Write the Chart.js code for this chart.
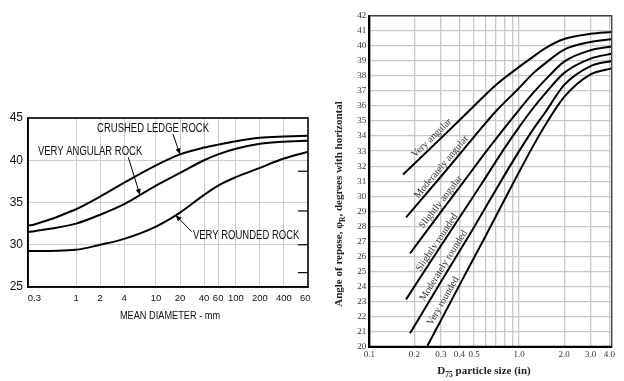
<!DOCTYPE html>
<html><head><meta charset="utf-8">
<script src="https://cdn.jsdelivr.net/npm/chart.js@4.4.1/dist/chart.umd.min.js"></script>
<style>
html,body{margin:0;padding:0;background:#fff;width:624px;height:381px;overflow:hidden}
#lw{position:absolute;left:0;top:105px;width:311px;height:225px;overflow:hidden}
#rw{position:absolute;left:330px;top:0;width:294px;height:381px}
</style></head><body>
<div id="lw"><canvas id="lc" width="320" height="225"></canvas></div>
<div id="rw"><canvas id="rc" width="294" height="381"></canvas></div>
<script>
// ---------- LEFT CHART DATA (mean diameter, mm) ----------
const leftSizes = [0.25, 0.3, 1, 2, 4, 10, 20, 40, 60, 100, 200, 400, 800];
const crushedLedgeRock = [32.25, 32.4, 34.2, 35.7, 37.35, 39.4, 40.7, 41.5, 41.85, 42.25, 42.65, 42.8, 42.9];
const veryAngularRock  = [31.5, 31.6, 32.5, 33.55, 34.8, 37.0, 38.5, 40.0, 40.7, 41.35, 41.95, 42.2, 42.3];
const veryRoundedRock  = [29.25, 29.25, 29.4, 30.0, 30.7, 32.15, 33.8, 35.9, 37.0, 38.0, 39.1, 40.2, 41.0];
// the reference prints its last label ("600") at the right end of the axis
const leftTicks = [0.3, 1, 2, 4, 10, 20, 40, 60, 100, 200, 400, 800];
const leftTickLabels = ['0.3','1','2','4','10','20','40','60','100','200','400','600'];
const leftEdgeMarks = [38.7, 34.0, 30.0, 26.7];
const leftLabelText = ['CRUSHED LEDGE ROCK', 'VERY ANGULAR ROCK', 'VERY ROUNDED ROCK'];
const leftLabelX = [1.83, 0.333, 29];
const leftLabelY = [43.73, 41.06, 31.1];
const leftArrowFromX = [16.3, 4.5, 28];
const leftArrowFromY = [43.1, 40.35, 31.55];
const leftArrowToX = [20, 6.3, 17.6];
const leftArrowToY = [40.7, 35.9, 33.5];

// ---------- RIGHT CHART DATA (D75 particle size, in) ----------
const veryAngularSize = [0.168, 0.3, 0.5, 0.7, 1.0, 1.25, 1.5, 2.0, 3.0, 4.15];
const veryAngularAngle = [31.45, 33.85, 36.0, 37.4, 38.6, 39.3, 39.85, 40.45, 40.8, 40.92];
const modAngularSize = [0.176, 0.3, 0.5, 0.7, 1.0, 1.25, 1.5, 2.0, 3.0, 4.15];
const modAngularAngle = [28.6, 31.3, 33.95, 35.65, 37.2, 38.2, 38.85, 39.75, 40.25, 40.43];
const slAngularSize = [0.187, 0.3, 0.434, 0.6, 0.8, 1.0, 1.25, 1.5, 2.0, 3.0, 4.15];
const slAngularAngle = [26.2, 28.95, 31.07, 32.95, 34.55, 35.75, 36.9, 37.75, 38.95, 39.7, 39.95];
const slRoundedSize = [0.176, 0.3, 0.582, 0.8, 1.0, 1.25, 1.5, 2.0, 3.0, 4.15];
const slRoundedAngle = [23.15, 26.7, 31.07, 33.2, 34.6, 35.9, 36.85, 38.2, 39.15, 39.47];
const modRoundedSize = [0.187, 0.3, 0.5, 0.763, 1.0, 1.25, 1.5, 2.0, 3.0, 4.15];
const modRoundedAngle = [20.9, 24.3, 27.95, 31.07, 33.0, 34.5, 35.6, 37.4, 38.65, 38.99];
const veryRoundedSize = [0.244, 0.4, 0.6, 0.935, 1.25, 1.5, 2.0, 3.0, 4.15];
const veryRoundedAngle = [20.05, 24.1, 27.4, 31.07, 33.4, 34.75, 36.6, 38.1, 38.5];
const rightTicks = [0.1, 0.2, 0.3, 0.4, 0.5, 0.6, 0.7, 0.8, 0.9, 1, 2, 3, 4];
const rightTickLabels = ['0.1','0.2','0.3','0.4','0.5','','','','','1.0','2.0','3.0','4.0'];
const rightLabelText = ['Very angular','Moderately angular','Slightly angular','Slightly rounded','Moderately rounded','Very rounded'];
const rightLabelSize = [0.261, 0.303, 0.30, 0.283, 0.313, 0.311];
const rightLabelAngle = [33.87, 31.95, 29.62, 26.93, 25.4, 23.04];
const rightLabelRotation = [44, 50, 52, 56, 58, 60];

const sans = '"Liberation Sans", Arial, sans-serif';
const serif = '"Liberation Serif", "DejaVu Serif", serif';

function pts(xs, ys) { return xs.map((x, i) => ({x: x, y: ys[i]})); }
function ds(xs, ys, w) {
  return {data: pts(xs, ys), borderColor: '#000', borderWidth: w, pointRadius: 0,
          fill: false, cubicInterpolationMode: 'monotone'};
}
function squeeze(ctx, text, x, y, font, sx, align) {
  ctx.save();
  ctx.font = font;
  ctx.textBaseline = 'middle';
  ctx.textAlign = align || 'left';
  ctx.translate(x, y);
  ctx.scale(sx, 1);
  ctx.fillText(text, 0, 0);
  ctx.restore();
}

const leftDecor = {
  id: 'leftDecor',
  afterDatasetsDraw(chart) {
    const ctx = chart.ctx, a = chart.chartArea, sx = chart.scales.x, sy = chart.scales.y;
    ctx.save();
    ctx.strokeStyle = '#000'; ctx.lineWidth = 1.6;
    ctx.strokeRect(a.left, a.top, a.right - a.left, a.bottom - a.top);
    ctx.lineWidth = 1.2;
    leftEdgeMarks.forEach(v => {
      const y = sy.getPixelForValue(v);
      ctx.beginPath(); ctx.moveTo(a.right - 10, y); ctx.lineTo(a.right, y); ctx.stroke();
    });
    ctx.fillStyle = '#111';
    leftLabelText.forEach((t, i) => {
      squeeze(ctx, t, sx.getPixelForValue(leftLabelX[i]), sy.getPixelForValue(leftLabelY[i]),
              '12.5px ' + sans, 0.76, 'left');
    });
    ctx.strokeStyle = '#000'; ctx.lineWidth = 1; ctx.fillStyle = '#000';
    leftArrowFromX.forEach((fx, i) => {
      const x0 = sx.getPixelForValue(fx), y0 = sy.getPixelForValue(leftArrowFromY[i]);
      const x1 = sx.getPixelForValue(leftArrowToX[i]), y1 = sy.getPixelForValue(leftArrowToY[i]);
      ctx.beginPath(); ctx.moveTo(x0, y0); ctx.lineTo(x1, y1); ctx.stroke();
      const ang = Math.atan2(y1 - y0, x1 - x0), L = 6, W = 2.5;
      ctx.beginPath();
      ctx.moveTo(x1, y1);
      ctx.lineTo(x1 - L * Math.cos(ang) + W * Math.sin(ang), y1 - L * Math.sin(ang) - W * Math.cos(ang));
      ctx.lineTo(x1 - L * Math.cos(ang) - W * Math.sin(ang), y1 - L * Math.sin(ang) + W * Math.cos(ang));
      ctx.closePath(); ctx.fill();
    });
    ctx.fillStyle = '#111';
    squeeze(ctx, 'MEAN DIAMETER - mm', (a.left + a.right) / 2 + 2, a.bottom + 29, '11.5px ' + sans, 0.8, 'center');
    ctx.restore();
  }
};

new Chart(document.getElementById('lc'), {
  type: 'line',
  data: { datasets: [
    ds(leftSizes, crushedLedgeRock, 2),
    ds(leftSizes, veryAngularRock, 2),
    ds(leftSizes, veryRoundedRock, 2)
  ]},
  options: {
    responsive: false, animation: false, devicePixelRatio: 1,
    layout: {padding: {top: 13, right: 12, left: 0, bottom: 0}},
    plugins: {legend: {display: false}, tooltip: {enabled: false}},
    scales: {
      x: {type: 'logarithmic', min: 0.25, max: 800,
        afterBuildTicks: s => { s.ticks = leftTicks.map(v => ({value: v})); },
        afterFit: s => { s.height = 43; s.paddingLeft = 0; s.paddingRight = 0; },
        ticks: {autoSkip: false, maxRotation: 0, minRotation: 0, padding: 6, color: '#111',
                font: {family: sans, size: 9.5}, callback: (v, i) => leftTickLabels[i]},
        grid: {drawTicks: false, lineWidth: 1,
               color: c => (c.tick && (c.tick.value === 0.3 || c.tick.value === 800)) ? 'rgba(0,0,0,0)' : '#cdcdcd'},
        border: {display: true, color: '#000', width: 1.6}},
      y: {min: 25, max: 45,
        afterFit: s => { s.width = 28; },
        ticks: {stepSize: 5, padding: 5, color: '#111', font: {family: sans, size: 12}},
        grid: {drawTicks: false, color: '#cdcdcd', lineWidth: 1},
        border: {display: true, color: '#000', width: 1.6}}
    }
  },
  plugins: [leftDecor]
});

const rightDecor = {
  id: 'rightDecor',
  afterDatasetsDraw(chart) {
    const ctx = chart.ctx, a = chart.chartArea, sx = chart.scales.x, sy = chart.scales.y;
    ctx.save();
    ctx.strokeStyle = '#444'; ctx.lineWidth = 1.4;
    ctx.beginPath(); ctx.moveTo(a.left, a.top); ctx.lineTo(a.right, a.top); ctx.lineTo(a.right, a.bottom); ctx.stroke();
    ctx.strokeStyle = '#000'; ctx.lineWidth = 2;
    ctx.beginPath(); ctx.moveTo(a.left, a.top); ctx.lineTo(a.left, a.bottom); ctx.lineTo(a.right, a.bottom); ctx.stroke();
    ctx.fillStyle = '#333';
    ctx.font = '10px ' + serif;
    ctx.textAlign = 'center'; ctx.textBaseline = 'middle';
    rightLabelText.forEach((t, i) => {
      ctx.save();
      ctx.translate(sx.getPixelForValue(rightLabelSize[i]), sy.getPixelForValue(rightLabelAngle[i]));
      ctx.rotate(-rightLabelRotation[i] * Math.PI / 180);
      ctx.fillText(t, 0, 0);
      ctx.restore();
    });
    ctx.fillStyle = '#222';
    ctx.save();
    ctx.translate(8, 204);
    ctx.rotate(-Math.PI / 2);
    const f = 'bold 11px ' + serif, fs = 'bold 7.5px ' + serif;
    const p1 = 'Angle of repose, \u03C6', p2 = 'R', p3 = ', degrees with horizontal';
    ctx.font = f; const w1 = ctx.measureText(p1).width, w3 = ctx.measureText(p3).width;
    ctx.font = fs; const w2 = ctx.measureText(p2).width;
    let x = -(w1 + w2 + w3) / 2;
    ctx.textAlign = 'left'; ctx.textBaseline = 'alphabetic';
    ctx.font = f; ctx.fillText(p1, x, 4); x += w1;
    ctx.font = fs; ctx.fillText(p2, x, 6.5); x += w2;
    ctx.font = f; ctx.fillText(p3, x, 4);
    ctx.restore();
    const g = 'bold 11px ' + serif, gs = 'bold 7.5px ' + serif;
    const q1 = 'D', q2 = '75', q3 = ' particle size (in)';
    ctx.font = g; const v1 = ctx.measureText(q1).width, v3 = ctx.measureText(q3).width;
    ctx.font = gs; const v2 = ctx.measureText(q2).width;
    let xx = 154 - (v1 + v2 + v3) / 2, yy = a.bottom + 27;
    ctx.textAlign = 'left'; ctx.textBaseline = 'alphabetic';
    ctx.font = g; ctx.fillText(q1, xx, yy); xx += v1;
    ctx.font = gs; ctx.fillText(q2, xx, yy + 3); xx += v2;
    ctx.font = g; ctx.fillText(q3, xx, yy);
    ctx.restore();
  }
};

new Chart(document.getElementById('rc'), {
  type: 'line',
  data: { datasets: [
    ds(veryAngularSize, veryAngularAngle, 2),
    ds(modAngularSize, modAngularAngle, 2),
    ds(slAngularSize, slAngularAngle, 2),
    ds(slRoundedSize, slRoundedAngle, 2),
    ds(modRoundedSize, modRoundedAngle, 2),
    ds(veryRoundedSize, veryRoundedAngle, 2)
  ]},
  options: {
    responsive: false, animation: false, devicePixelRatio: 1,
    layout: {padding: {top: 15.7, right: 12.3, left: 0, bottom: 0}},
    plugins: {legend: {display: false}, tooltip: {enabled: false}},
    scales: {
      x: {type: 'logarithmic', min: 0.1, max: 4.15,
        afterBuildTicks: s => { s.ticks = rightTicks.map(v => ({value: v})); },
        afterFit: s => { s.height = 34.2; },
        ticks: {autoSkip: false, maxRotation: 0, minRotation: 0, padding: 2, color: '#333',
                font: {family: serif, size: 9}, callback: (v, i) => rightTickLabels[i]},
        grid: {drawTicks: false, color: '#c8c8c8', lineWidth: 1.3},
        border: {display: true, color: '#000', width: 2}},
      y: {min: 20, max: 42,
        afterFit: s => { s.width = 39.3; },
        ticks: {stepSize: 1, padding: 3, color: '#333', font: {family: serif, size: 9}},
        grid: {drawTicks: false, color: '#c8c8c8', lineWidth: 1.3},
        border: {display: true, color: '#000', width: 2}}
    }
  },
  plugins: [rightDecor]
});
</script>
</body></html>
